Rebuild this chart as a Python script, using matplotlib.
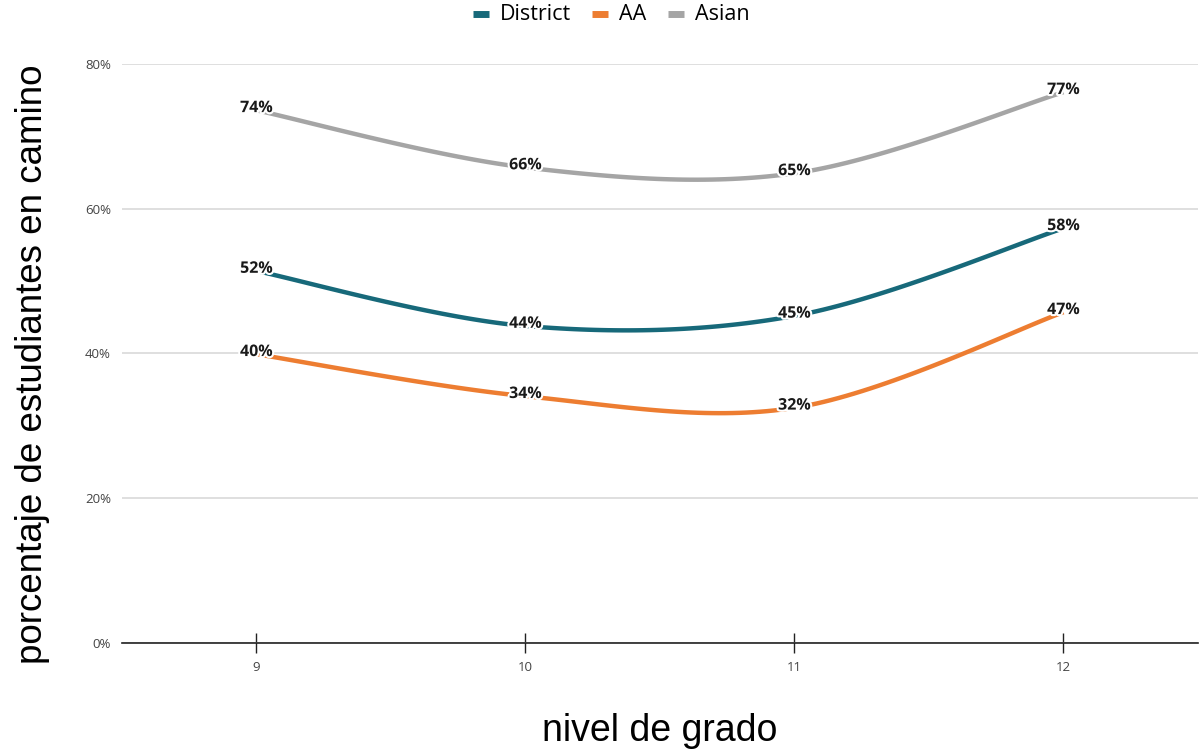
import numpy as np
import matplotlib.pyplot as plt
import matplotlib.patheffects as pe
from matplotlib.ticker import PercentFormatter

grades = [9, 10, 11, 12]
district = [51.4, 43.8, 45.2, 57.3]
aa = [39.9, 34.1, 32.5, 45.7]
asian = [73.6, 65.7, 64.9, 76.1]
district_labels = ["52%", "44%", "45%", "58%"]
aa_labels = ["40%", "34%", "32%", "47%"]
asian_labels = ["74%", "66%", "65%", "77%"]


def smooth(x, y, n=40):
    # catmull-rom through the points, like a smoothed office line
    x = np.asarray(x, float)
    y = np.asarray(y, float)
    px = np.concatenate([[x[0]], x, [x[-1]]])
    py = np.concatenate([[y[0]], y, [y[-1]]])
    xs, ys = [], []
    t = np.linspace(0, 1, n)
    for i in range(1, len(px) - 2):
        for p, out in ((px, xs), (py, ys)):
            p0, p1, p2, p3 = p[i - 1], p[i], p[i + 1], p[i + 2]
            m1 = (p2 - p0) / 2
            m2 = (p3 - p1) / 2
            h = ((2 * t**3 - 3 * t**2 + 1) * p1 + (t**3 - 2 * t**2 + t) * m1
                 + (-2 * t**3 + 3 * t**2) * p2 + (t**3 - t**2) * m2)
            out.extend(h)
    return np.array(xs), np.array(ys)


fig = plt.figure(figsize=(12.04, 7.49), dpi=100)
ax = fig.add_axes([0.1013, 0.1415, 0.8937, 0.7731])

series = [
    ("District", district, district_labels, "#17697a"),
    ("AA", aa, aa_labels, "#ed7d31"),
    ("Asian", asian, asian_labels, "#a5a5a5"),
]
for name, vals, labels, color in series:
    sx, sy = smooth(grades, vals)
    ax.plot(sx, sy, color=color, lw=3.2, label=name, solid_capstyle="butt", zorder=3)
    for g, v, lab in zip(grades, vals, labels):
        ax.text(g, v + 0.3, lab, ha="center", va="center", fontsize=11.5,
                fontweight="bold", family="Open Sans", color="#1a1a1a", zorder=5,
                path_effects=[pe.withStroke(linewidth=3, foreground="white")])

ax.set_xlim(8.5, 12.5)
ax.set_ylim(0, 80)
ax.set_xticks(grades)
ax.set_yticks([0, 20, 40, 60, 80])
ax.yaxis.set_major_formatter(PercentFormatter(decimals=0))
ax.grid(axis="y", color="#d9d9d9", lw=1.2)
ax.set_axisbelow(True)
for s in ["top", "right", "left"]:
    ax.spines[s].set_visible(False)
ax.spines["bottom"].set_color("#222222")
ax.spines["bottom"].set_linewidth(1.2)
ax.tick_params(axis="y", length=0, pad=8, labelsize=9.5, labelcolor="#444444")
ax.tick_params(axis="x", direction="inout", length=14, width=1, color="#222222",
               labelsize=9.5, labelcolor="#444444", pad=6)
for lab in ax.get_xticklabels() + ax.get_yticklabels():
    lab.set_family("Open Sans")

ax.set_xlabel("nivel de grado", fontsize=27, family="Liberation Sans", labelpad=28)
ax.set_ylabel("porcentaje de estudiantes en camino", fontsize=26.5,
              family="Liberation Sans")
ax.yaxis.set_label_coords(-0.067, 0.481)

fig.legend(loc="center", bbox_to_anchor=(611 / 1204, 1 - 15 / 749), ncol=3,
           frameon=False, prop={"family": "Open Sans", "size": 15.5},
           handlelength=0.75, handleheight=0.5, handletextpad=0.5,
           columnspacing=1.0, borderaxespad=0, borderpad=0)
for line in fig.legends[0].get_lines():
    line.set_linewidth(5)

fig.savefig("out.png", dpi=100)
